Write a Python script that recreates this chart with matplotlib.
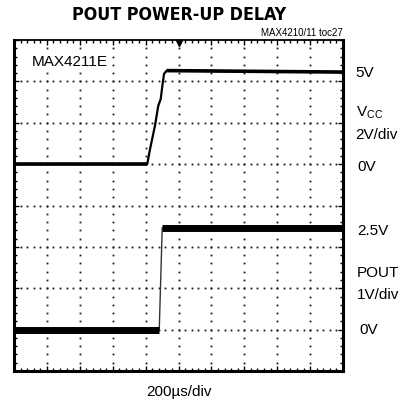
#Scope capture: POUT power-up delay (MAX4211E)

import numpy as np
import matplotlib
matplotlib.use("Agg")
import matplotlib.pyplot as plt

plt.rcParams['font.family'] = ['Liberation Sans', 'DejaVu Sans']
plt.rcParams['mathtext.fontset'] = 'custom'
plt.rcParams['mathtext.rm'] = 'Liberation Sans'

# time base 200us/div, VCC 2V/div (0V on div 5), POUT 1V/div (0V on div 1)
vcc_time_us = [0, 810, 827, 857, 877, 892, 902, 912, 928, 2000]
vcc_volts = [0.0, 0.0, 0.73, 1.86, 2.82, 3.15, 3.79, 4.36, 4.52, 4.45]
pout_time_us = [0, 883, 901, 2000]
pout_volts = [0.0, 0.0, 2.46, 2.46]

us_per_div = 200.0
vcc_v_per_div, vcc_zero_div = 2.0, 5.0
pout_v_per_div, pout_zero_div = 1.0, 1.0

vcc_x = np.array(vcc_time_us) / us_per_div
vcc_y = vcc_zero_div + np.array(vcc_volts) / vcc_v_per_div
pout_x = np.array(pout_time_us) / us_per_div
pout_y = pout_zero_div + np.array(pout_volts) / pout_v_per_div

fig = plt.figure(figsize=(4.15, 4.06), dpi=100)
ax = fig.add_axes([14/415, 34/406, 329/415, 331/406])
ax.set_xlim(0, 10)
ax.set_ylim(0, 8)

# graticule: dotted lines, one dot per minor division
for gx in range(1, 10):
    ax.plot(np.full(39, gx), np.arange(1, 40) / 5.0, linestyle='none',
            marker='s', ms=1.3, mew=0, color='#1a1a1a')
for gy in range(1, 8):
    ax.plot(np.arange(1, 50) / 5.0, np.full(49, gy), linestyle='none',
            marker='s', ms=1.3, mew=0, color='#1a1a1a')

# traces
ax.plot(vcc_x, vcc_y, color='k', lw=1.6)
ax.plot(vcc_x[:2], vcc_y[:2], color='k', lw=2.6, solid_capstyle='butt')
ax.plot(vcc_x[-2:], vcc_y[-2:], color='k', lw=2.6, solid_capstyle='butt')
ax.plot(pout_x, pout_y, color='#333333', lw=1.0)
ax.plot(pout_x[:2], pout_y[:2], color='k', lw=5.0, solid_capstyle='butt')
ax.plot(pout_x[-2:], pout_y[-2:], color='k', lw=5.0, solid_capstyle='butt')

# trigger marker
ax.plot([5], [7.92], marker='v', ms=5, color='k', clip_on=False)

ax.set_xticks(np.arange(0, 11))
ax.set_yticks(np.arange(0, 9))
ax.set_xticks(np.arange(0, 50) / 5.0, minor=True)
ax.set_yticks(np.arange(0, 40) / 5.0, minor=True)
ax.tick_params(which='both', direction='in', top=True, right=True,
               labelbottom=False, labelleft=False, width=1.0)
ax.tick_params(which='major', length=3.5)
ax.tick_params(which='minor', length=2.2)
for side in ['left', 'right', 'bottom']:
    ax.spines[side].set_linewidth(2.2)
ax.spines['top'].set_linewidth(1.3)

ax.text(0.55, 7.49, "MAX4211E", fontsize=11, va='center', ha='left',
        bbox=dict(facecolor='white', edgecolor='none', pad=1.0), zorder=5)

fig.text(179/415, 1 - 15/406, "POUT POWER-UP DELAY", fontsize=12.8,
         fontweight='bold', fontstretch='condensed', family='DejaVu Sans',
         ha='center', va='center')
fig.text(343/415, 1 - 33/406, "MAX4210/11 toc27", fontsize=7,
         ha='right', va='center')
fig.text(179/415, 1 - 392/406, "200\u00b5s/div", fontsize=11,
         ha='center', va='center')

right_labels = [("5V", 355, 73), ("V$_\\mathregular{CC}$", 356, 113),
                ("2V/div", 355, 135), ("0V", 357, 167),
                ("2.5V", 357, 231), ("POUT", 357, 273),
                ("1V/div", 357, 295), ("0V", 359, 330)]
for txt, px, py in right_labels:
    fig.text(px/415, 1 - py/406, txt, fontsize=11, ha='left', va='center')

fig.savefig("out.png", dpi=100)
